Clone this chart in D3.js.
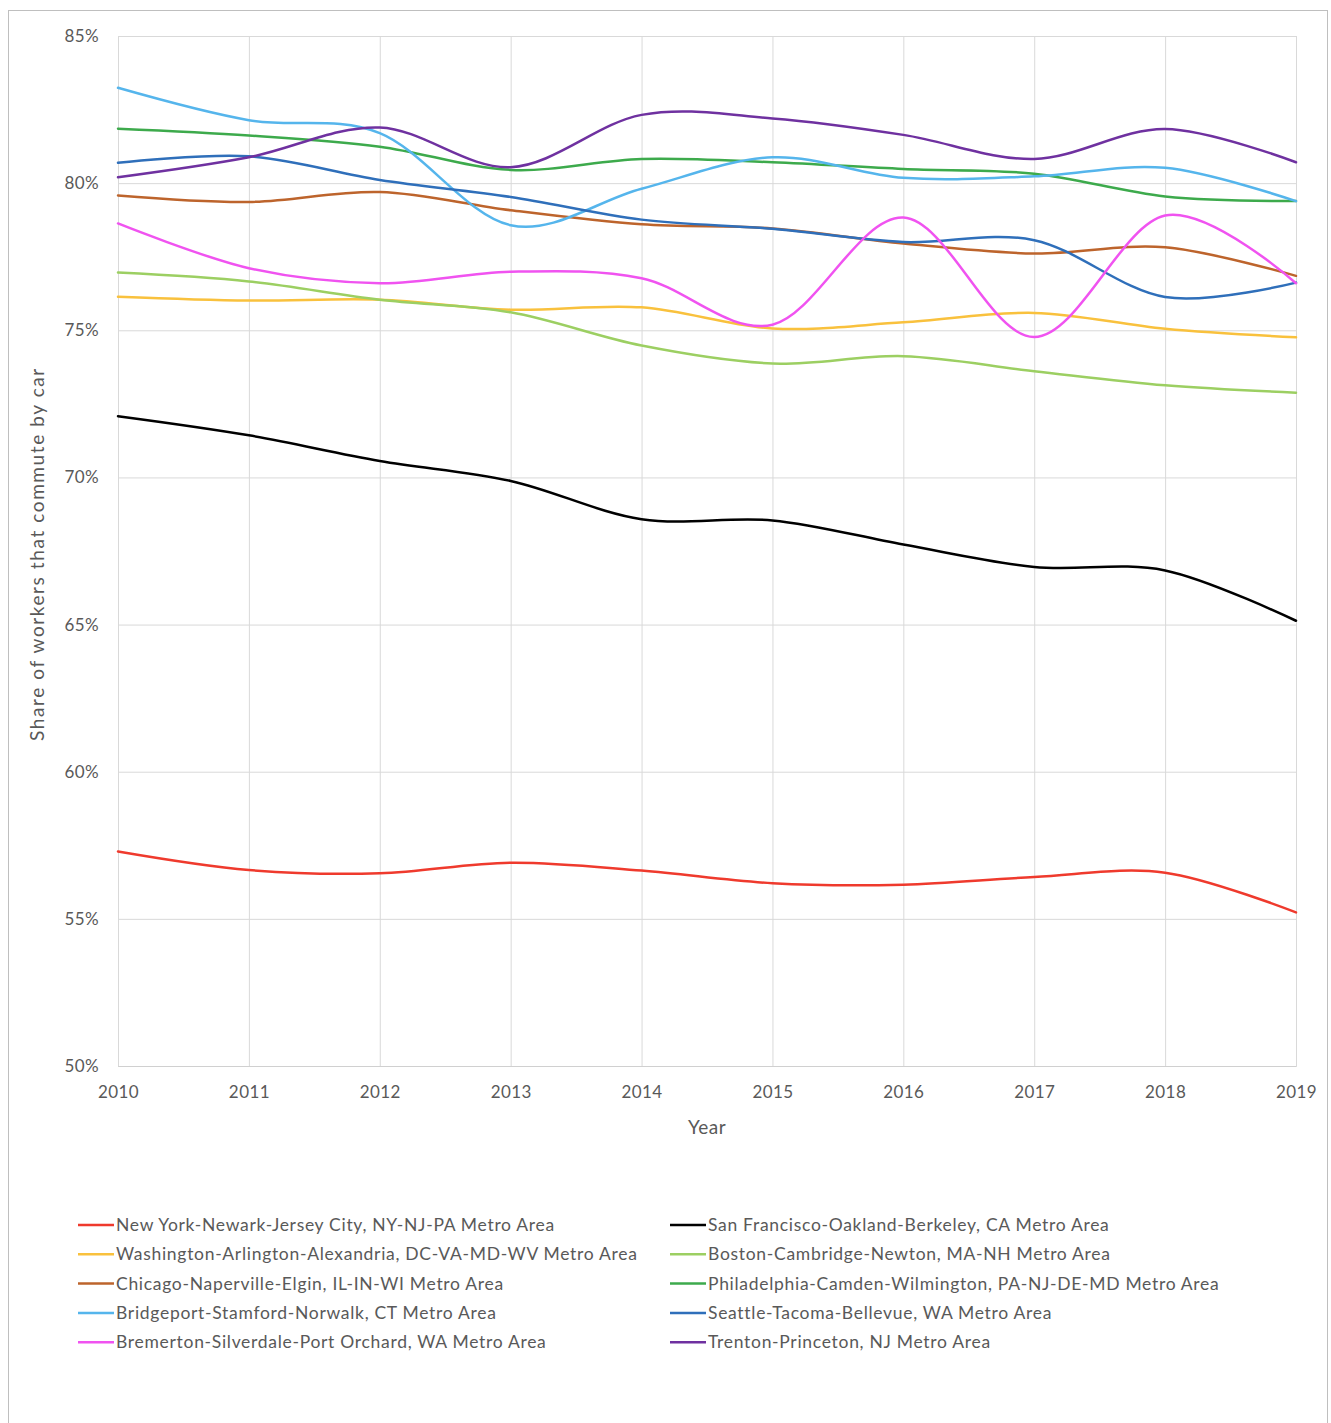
<!DOCTYPE html>
<html>
<head>
<meta charset="utf-8">
<script src="https://cdn.jsdelivr.net/npm/d3@7"></script>
<style>
  html, body { margin: 0; padding: 0; background: #fff; }
  svg { display: block; }
  text { font-family: Lato, "Open Sans", sans-serif; fill: #595959; }
</style>
</head>
<body>
<script>
// Years on the x axis
const years = [2010, 2011, 2012, 2013, 2014, 2015, 2016, 2017, 2018, 2019];
const yTicks = [50, 55, 60, 65, 70, 75, 80, 85];

// Share of workers commuting by car (%) per metro area
const newYork      = [57.29, 56.66, 56.55, 56.91, 56.64, 56.21, 56.16, 56.42, 56.57, 55.22];
const sanFrancisco = [72.08, 71.43, 70.56, 69.88, 68.58, 68.54, 67.72, 66.96, 66.84, 65.13];
const washington   = [76.14, 76.01, 76.04, 75.70, 75.78, 75.06, 75.27, 75.59, 75.05, 74.76];
const boston       = [76.96, 76.66, 76.04, 75.61, 74.48, 73.87, 74.12, 73.61, 73.13, 72.88];
const chicago      = [79.58, 79.36, 79.70, 79.08, 78.60, 78.46, 77.95, 77.61, 77.82, 76.85];
const philadelphia = [81.85, 81.62, 81.24, 80.45, 80.82, 80.71, 80.48, 80.32, 79.55, 79.39];
const bridgeport   = [83.24, 82.14, 81.70, 78.57, 79.81, 80.88, 80.18, 80.23, 80.52, 79.39];
const seattle      = [80.69, 80.91, 80.11, 79.53, 78.76, 78.45, 78.00, 78.06, 76.13, 76.62];
const bremerton    = [78.63, 77.11, 76.60, 76.99, 76.77, 75.19, 78.83, 74.77, 78.90, 76.60];
const trenton      = [80.20, 80.88, 81.89, 80.54, 82.32, 82.20, 81.64, 80.82, 81.84, 80.71];

const seriesNames = [
  "New York-Newark-Jersey City, NY-NJ-PA Metro Area",
  "San Francisco-Oakland-Berkeley, CA Metro Area",
  "Washington-Arlington-Alexandria, DC-VA-MD-WV Metro Area",
  "Boston-Cambridge-Newton, MA-NH Metro Area",
  "Chicago-Naperville-Elgin, IL-IN-WI Metro Area",
  "Philadelphia-Camden-Wilmington, PA-NJ-DE-MD Metro Area",
  "Bridgeport-Stamford-Norwalk, CT Metro Area",
  "Seattle-Tacoma-Bellevue, WA Metro Area",
  "Bremerton-Silverdale-Port Orchard, WA Metro Area",
  "Trenton-Princeton, NJ Metro Area"
];
const seriesValues = [newYork, sanFrancisco, washington, boston, chicago,
                      philadelphia, bridgeport, seattle, bremerton, trenton];
const seriesColors = ["#ef3a2d", "#000000", "#f9c13d", "#9ccf62", "#bd642c",
                      "#3daa4c", "#55b5ec", "#2f6fba", "#f053f0", "#6f31a0"];

const W = 1331, H = 1423;
const plot = { left: 118, right: 1296, top: 36, bottom: 1066 };

const svg = d3.select("body").append("svg").attr("width", W).attr("height", H);

// Outer chart border
svg.append("rect")
  .attr("x", 8.5).attr("y", 10.5).attr("width", 1319).attr("height", 1420)
  .attr("fill", "#fff").attr("stroke", "#bfbfbf").attr("stroke-width", 1);

const x = d3.scaleLinear().domain([2010, 2019]).range([plot.left, plot.right]);
const y = d3.scaleLinear().domain([50, 85]).range([plot.bottom, plot.top]);

// Horizontal gridlines + y tick labels
const yAxis = d3.axisLeft(y).tickValues(yTicks)
  .tickSize(-(plot.right - plot.left)).tickPadding(19)
  .tickFormat(d => d + "%");
const gy = svg.append("g").attr("transform", `translate(${plot.left},0)`).call(yAxis);
gy.select(".domain").remove();
gy.selectAll(".tick line").attr("stroke", "#d9d9d9").attr("stroke-width", 1);
gy.selectAll(".tick text").attr("font-size", 17).attr("fill", "#595959")
  .style("font-family", "Lato, 'Open Sans', sans-serif")
  .style("letter-spacing", "0.4px");

// Vertical gridlines + x tick labels
const xAxis = d3.axisBottom(x).tickValues(years)
  .tickSize(-(plot.bottom - plot.top)).tickPadding(20)
  .tickFormat(d3.format("d"));
const gx = svg.append("g").attr("transform", `translate(0,${plot.bottom})`).call(xAxis);
gx.select(".domain").attr("stroke", "#d0d0d0");
gx.selectAll(".tick line").attr("stroke", "#d9d9d9").attr("stroke-width", 1);
gx.selectAll(".tick text").attr("font-size", 17).attr("fill", "#595959")
  .style("font-family", "Lato, 'Open Sans', sans-serif")
  .style("letter-spacing", "0.4px");

// Axis titles
svg.append("text")
  .attr("x", (plot.left + plot.right) / 2).attr("y", 1134)
  .attr("text-anchor", "middle").attr("font-size", 19)
  .style("letter-spacing", "0.5px").text("Year");
svg.append("text")
  .attr("transform", `translate(44,${(plot.top + plot.bottom) / 2 + 3}) rotate(-90)`)
  .attr("text-anchor", "middle").attr("font-size", 19)
  .style("letter-spacing", "1.6px")
  .text("Share of workers that commute by car");

// Smoothed series lines
const line = d3.line()
  .x((d, i) => x(years[i]))
  .y(d => y(d))
  .curve(d3.curveCatmullRom.alpha(0));

const gLines = svg.append("g");
seriesValues.forEach((vals, k) => {
  gLines.append("path")
    .datum(vals)
    .attr("d", line)
    .attr("fill", "none")
    .attr("stroke", seriesColors[k])
    .attr("stroke-width", 2.5)
    .attr("stroke-linejoin", "round")
    .attr("stroke-linecap", "round");
});

// Legend, two columns filled row by row
const legend = svg.append("g");
const colX = [78, 670];
const rowY0 = 1225, rowStep = 29.3;
seriesNames.forEach((name, k) => {
  const cx = colX[k % 2];
  const cy = rowY0 + Math.floor(k / 2) * rowStep;
  legend.append("line")
    .attr("x1", cx).attr("x2", cx + 36).attr("y1", cy).attr("y2", cy)
    .attr("stroke", seriesColors[k]).attr("stroke-width", 2.5);
  legend.append("text")
    .attr("x", cx + 38).attr("y", cy).attr("dy", "0.35em")
    .attr("font-size", 17.5)
    .style("letter-spacing", "0.7px")
    .text(name);
});
</script>
</body>
</html>
